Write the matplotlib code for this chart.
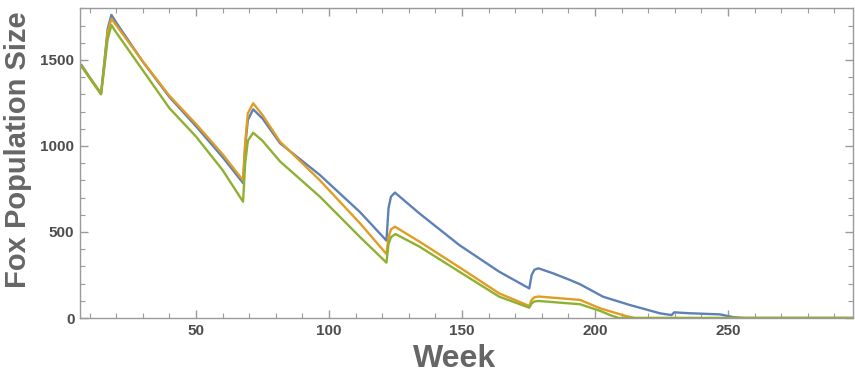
import matplotlib
matplotlib.use("Agg")
import matplotlib.pyplot as plt
from matplotlib.ticker import MultipleLocator

# Data (week, fox population)
blue_weeks = [7, 10, 14.3, 15.5, 16.8, 18.2, 20, 30, 40, 50, 60, 67.7,
              68.5, 69.5, 71.5, 75, 81.6, 96.6, 111.7, 121.6,
              122.4, 123.3, 124.8, 134, 149, 164, 175.3,
              176.2, 177.2, 178.7, 184.2, 190.6, 194.4, 203, 213, 224.5, 228.8,
              229.8, 235, 247, 252, 256, 297]
blue_vals = [1470, 1400, 1305, 1480, 1680, 1762, 1718, 1490, 1285, 1115, 935, 785,
             1000, 1150, 1213, 1160, 1016, 831, 615, 450,
             640, 705, 729, 608, 424, 269, 172,
             250, 280, 289, 260, 221, 196, 124, 76, 27, 17,
             33, 28, 21, 5, 0, 0]

orange_weeks = [7, 10, 14.3, 15.5, 16.8, 18.2, 20, 30, 40, 50, 60, 67.7,
                68.5, 69.5, 71.5, 75, 81.6, 96.6, 111.7, 121.6,
                122.4, 123.3, 124.8, 134, 149, 164, 175.3,
                176.2, 177.2, 178.7, 194.4, 202, 208, 212, 215, 297]
orange_vals = [1465, 1398, 1303, 1470, 1660, 1740, 1702, 1492, 1292, 1128, 952, 800,
               1020, 1190, 1248, 1180, 1025, 800, 550, 372,
               470, 515, 531, 444, 295, 143, 70,
               105, 120, 125, 105, 56, 28, 10, 0, 0]

green_weeks = [7, 10, 14.3, 15.5, 16.8, 18.2, 20, 30, 40, 50, 60, 67.7,
               68.5, 69.5, 71.5, 75, 81.6, 96.6, 111.7, 121.6,
               122.4, 123.3, 125, 134, 149, 164, 175.3,
               176.2, 177.2, 178.7, 194.4, 202, 206, 209, 297]
green_vals = [1462, 1395, 1300, 1450, 1620, 1703, 1660, 1440, 1220, 1055, 860, 676,
              900, 1030, 1077, 1030, 910, 705, 470, 322,
              430, 470, 488, 415, 269, 124, 60,
              85, 96, 99, 80, 41, 15, 0, 0]

series = [(blue_weeks, blue_vals, "#5E81B5"),
          (orange_weeks, orange_vals, "#E19C24"),
          (green_weeks, green_vals, "#8FB032")]

x_label = "Week"
y_label = "Fox Population Size"

plt.rcParams['font.family'] = ['Liberation Sans', 'DejaVu Sans']

W, H = 855, 374
fig = plt.figure(figsize=(W/100, H/100), dpi=100)
ax = fig.add_axes([80/W, 1 - 318/H, (853-80)/W, (318-8)/H])

for wk, vals, col in series:
    ax.plot(wk, vals, color=col, lw=1.7, solid_joinstyle='round')

ax.set_xlim(6.4, 297)
ax.set_ylim(0, 1802)

ax.xaxis.set_major_locator(MultipleLocator(50))
ax.xaxis.set_minor_locator(MultipleLocator(10))
ax.yaxis.set_major_locator(MultipleLocator(500))
ax.yaxis.set_minor_locator(MultipleLocator(100))

frame_col = "#9a9a9a"
for s in ax.spines.values():
    s.set_color(frame_col)
    s.set_linewidth(1.0)

ax.tick_params(which='both', direction='in', top=True, right=True,
               color=frame_col, labelcolor="#4d4d4d")
ax.tick_params(which='major', length=6, width=1.0, labelsize=11, pad=4)
ax.tick_params(which='minor', length=3.5, width=0.8)
for lab in ax.get_xticklabels() + ax.get_yticklabels():
    lab.set_fontweight('bold')

fig.text(455/W, 1 - 359/H, x_label, fontsize=23, fontweight='bold',
         color="#666666", ha='center', va='center')
fig.text(18/W, 1 - 150/H, y_label, fontsize=21, fontweight='bold',
         color="#666666", ha='center', va='center', rotation=90)

fig.savefig("out.png", dpi=100)
